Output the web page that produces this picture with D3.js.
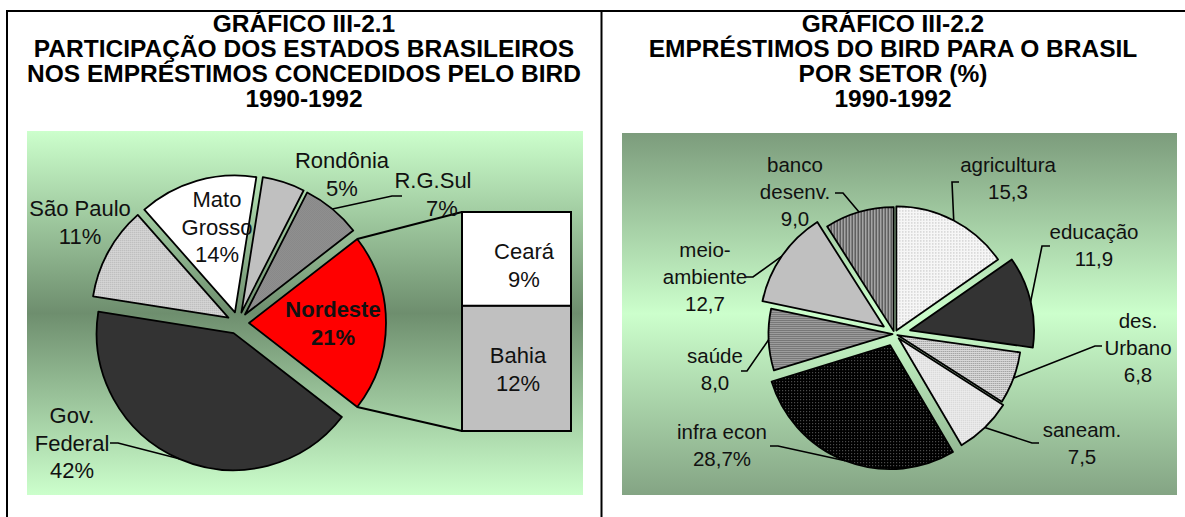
<!DOCTYPE html>
<html>
<head>
<meta charset="utf-8">
<script src="https://d3js.org/d3.v7.min.js"></script>
<style>
  body { margin: 0; background: #fff; }
  svg text { font-family: Arial, "Liberation Sans", sans-serif; fill: #111; }
</style>
</head>
<body>
<svg id="chart" width="1185" height="517"></svg>
<script>
// Gráfico III-2.1 - participação dos estados (%)
const stateNames = ["Nordeste", "Gov. Federal", "São Paulo", "Mato Grosso", "Rondônia", "R.G.Sul"];
const stateShares = [21, 42, 11, 14, 5, 7];
// fatia "Nordeste" aberta na barra
const nordesteNames = ["Ceará", "Bahia"];
const nordesteShares = [9, 12];

// Gráfico III-2.2 - empréstimos por setor (%)
const sectorNames = ["agricultura", "educação", "des. Urbano", "saneam.", "infra econ", "saúde", "meio-ambiente", "banco desenv."];
const sectorShares = [15.3, 11.9, 6.8, 7.5, 28.7, 8.0, 12.7, 9.0];

const titles1 = ["GRÁFICO III-2.1", "PARTICIPAÇÃO DOS ESTADOS BRASILEIROS", "NOS EMPRÉSTIMOS CONCEDIDOS PELO BIRD", "1990-1992"];
const titles2 = ["GRÁFICO III-2.2", "EMPRÉSTIMOS DO BIRD PARA O BRASIL", "POR SETOR (%)", "1990-1992"];

const svg = d3.select("#chart");
const deg = Math.PI / 180;

// ---------- defs: gradients + patterns ----------
const defs = svg.append("defs");

function vGrad(id, stops) {
  const g = defs.append("linearGradient").attr("id", id)
    .attr("x1", 0).attr("y1", 0).attr("x2", 0).attr("y2", 1);
  stops.forEach(s => g.append("stop").attr("offset", s[0]).attr("stop-color", s[1]));
}
vGrad("bgLeft", [[0, "#ccffcc"], [0.5, "#6e8e6e"], [1, "#ccffcc"]]);
vGrad("bgRight", [[0, "#7c9c7c"], [0.5, "#ccffcc"], [1, "#84a484"]]);

function dotPattern(id, size, bg, dots, fg) {
  const p = defs.append("pattern").attr("id", id)
    .attr("patternUnits", "userSpaceOnUse").attr("width", size).attr("height", size);
  p.append("rect").attr("width", size).attr("height", size).attr("fill", bg);
  dots.forEach(d => p.append("rect").attr("x", d[0]).attr("y", d[1])
    .attr("width", d[2] || 1).attr("height", d[3] || 1).attr("fill", fg));
}
dotPattern("pSP", 2, "#dcdcdc", [[0, 0]], "#9c9c9c");
dotPattern("pRG", 2, "#c8c8c8", [[0, 0], [1, 1]], "#505050");
dotPattern("pAgri", 3, "#f6f6f6", [[0, 0]], "#a8a8a8");
dotPattern("pUrb", 2, "#dadada", [[0, 0]], "#8a8a8a");
dotPattern("pSan", 2, "#f2f2f2", [[0, 0]], "#bcbcbc");
dotPattern("pInfra", 3, "#000000", [[0, 0]], "#6a6a6a");
dotPattern("pSaude", 2, "#a0a0a0", [[0, 0]], "#484848");
dotPattern("pBanco", 3, "#a4a4a4", [[0, 0, 1, 3]], "#3c3c3c");

// ---------- frame ----------
const frame = svg.append("g").attr("stroke", "#000").attr("stroke-width", 2);
frame.append("line").attr("x1", 6).attr("x2", 1185).attr("y1", 11).attr("y2", 11);
frame.append("line").attr("x1", 7).attr("x2", 7).attr("y1", 10).attr("y2", 517);
frame.append("line").attr("x1", 601.5).attr("x2", 601.5).attr("y1", 10).attr("y2", 517);

function drawTitle(lines, cx) {
  const base = [32, 57, 82, 107];
  svg.append("g").selectAll("text").data(lines).join("text")
    .attr("x", cx).attr("y", (d, i) => base[i])
    .attr("text-anchor", "middle")
    .attr("font-size", "24.5px").attr("font-weight", "bold")
    .style("fill", "#000")
    .text(d => d);
}
drawTitle(titles1, 304);
drawTitle(titles2, 893);

svg.append("rect").attr("x", 27).attr("y", 131).attr("width", 556).attr("height", 364).attr("fill", "url(#bgLeft)");
svg.append("rect").attr("x", 622).attr("y", 133).attr("width", 555).attr("height", 362).attr("fill", "url(#bgRight)");

// ---------- helpers ----------
function midAngle(d) { return (d.startAngle + d.endAngle) / 2; }
function pt(cx, cy, a, rr) { return [cx + rr * Math.sin(a), cy - rr * Math.cos(a)]; }
function sliceOrigin(cx, cy, d, e) { return pt(cx, cy, midAngle(d), e); }

function drawLabelLines(g, lines, x, y0, lh, size, bold) {
  lines.forEach((t, i) => {
    g.append("text").attr("x", x).attr("y", y0 + i * lh)
      .attr("text-anchor", "middle").attr("font-size", size)
      .attr("font-weight", bold ? "bold" : null)
      .text(t);
  });
}
function splitName(name) {
  return name.replace("-", "-\n").replace(/ /g, "\n").split("\n");
}
const leaderLine = d3.line();

// =============== Gráfico III-2.1: bar of pie ===============
const c1 = [238, 323], r1 = 137, explode1 = 11;
const fills1 = {
  "Nordeste": "#ff0000", "Gov. Federal": "#333333", "São Paulo": "url(#pSP)",
  "Mato Grosso": "#ffffff", "Rondônia": "#c0c0c0", "R.G.Sul": "url(#pRG)"
};
// "Nordeste" fica centrado às 3 horas (lado da barra)
const start1 = (90 - stateShares[0] * 3.6 / 2) * deg;
const pie1 = d3.pie().sort(null).value(d => d.v).startAngle(start1).endAngle(start1 + 2 * Math.PI);
const arcs1 = pie1(stateNames.map((n, i) => ({ name: n, v: stateShares[i] })));
const arc1 = d3.arc().innerRadius(0).outerRadius(r1);

const g1 = svg.append("g");
g1.selectAll("path").data(arcs1).join("path")
  .attr("transform", d => "translate(" + sliceOrigin(c1[0], c1[1], d, explode1) + ")")
  .attr("d", arc1)
  .attr("fill", d => fills1[d.data.name])
  .attr("stroke", "#000").attr("stroke-width", 1.8).attr("stroke-linejoin", "round");

// barra do Nordeste
const barX = 462, barW = 109;
const barY = d3.scaleLinear().domain([0, d3.sum(nordesteShares)]).range([212, 431]);
const stack = nordesteNames.map((n, i) => ({
  name: n, v: nordesteShares[i],
  y0: d3.sum(nordesteShares.slice(0, i)), y1: d3.sum(nordesteShares.slice(0, i + 1))
}));
const barFills = { "Ceará": "#ffffff", "Bahia": "#c0c0c0" };
g1.selectAll("rect.bar").data(stack).join("rect").attr("class", "bar")
  .attr("x", barX).attr("width", barW)
  .attr("y", d => barY(d.y0)).attr("height", d => barY(d.y1) - barY(d.y0))
  .attr("fill", d => barFills[d.name])
  .attr("stroke", "#000").attr("stroke-width", 2);

// linhas de ligação fatia -> barra
const nd = arcs1[0];
const ndO = sliceOrigin(c1[0], c1[1], nd, explode1);
const ndTop = pt(ndO[0], ndO[1], nd.startAngle, r1);
const ndBot = pt(ndO[0], ndO[1], nd.endAngle, r1);
g1.append("path").attr("d", leaderLine([ndTop, [barX, barY(0)]]))
  .attr("stroke", "#000").attr("stroke-width", 2).attr("fill", "none");
g1.append("path").attr("d", leaderLine([ndBot, [barX, barY(d3.sum(nordesteShares))]]))
  .attr("stroke", "#000").attr("stroke-width", 2).attr("fill", "none");

// rótulos
const labels1 = {
  "Nordeste": { x: 333, y: 317, bold: true, split: false },
  "Gov. Federal": { x: 72, y: 423, split: true, lead: { ax: 110, ay: 443, ex: 118 } },
  "São Paulo": { x: 80, y: 216, split: false },
  "Mato Grosso": { x: 217, y: 207, split: true },
  "Rondônia": { x: 342, y: 168, split: false },
  "R.G.Sul": { x: 433, y: 188, split: false, vx: 442, lead: { ax: 402, ay: 196, ex: 392 } }
};
const lh1 = 27.5;
arcs1.forEach(d => {
  const L = labels1[d.data.name];
  const lines = L.split ? splitName(d.data.name) : [d.data.name];
  drawLabelLines(g1, lines, L.x, L.y, lh1, "22px", L.bold);
  drawLabelLines(g1, [d.data.v + "%"], L.vx || L.x, L.y + lines.length * lh1, lh1, "22px", L.bold);
  if (L.lead) {
    const o = sliceOrigin(c1[0], c1[1], d, explode1);
    const p0 = pt(o[0], o[1], midAngle(d), r1);
    g1.append("path").attr("d", leaderLine([p0, [L.lead.ex, L.lead.ay], [L.lead.ax, L.lead.ay]]))
      .attr("stroke", "#000").attr("stroke-width", 1.6).attr("fill", "none");
  }
});
const barLabels = { "Ceará": { x: 524, y: 259 }, "Bahia": { x: 518, y: 363 } };
stack.forEach(d => {
  const L = barLabels[d.name];
  drawLabelLines(g1, [d.name, d.v + "%"], L.x, L.y, lh1, "22px", false);
});

// =============== Gráfico III-2.2: pizza por setor ===============
const c2 = [894.5, 334], r2 = 124;
const explode2 = {
  "agricultura": 4, "educação": 16, "des. Urbano": 3, "saneam.": 6,
  "infra econ": 12, "saúde": 2, "meio-ambiente": 13, "banco desenv.": 3
};
const fills2 = {
  "agricultura": "url(#pAgri)", "educação": "#333333", "des. Urbano": "url(#pUrb)",
  "saneam.": "url(#pSan)", "infra econ": "url(#pInfra)", "saúde": "url(#pSaude)",
  "meio-ambiente": "#c0c0c0", "banco desenv.": "url(#pBanco)"
};
const pie2 = d3.pie().sort(null).value(d => d.v);
const arcs2 = pie2(sectorNames.map((n, i) => ({ name: n, v: sectorShares[i] })));
const arc2 = d3.arc().innerRadius(0).outerRadius(r2);
const fmt = v => d3.format(".1f")(v).replace(".", ",");

const g2 = svg.append("g");
g2.selectAll("path").data(arcs2).join("path")
  .attr("transform", d => "translate(" + sliceOrigin(c2[0], c2[1], d, explode2[d.data.name]) + ")")
  .attr("d", arc2)
  .attr("fill", d => fills2[d.data.name])
  .attr("stroke", "#000").attr("stroke-width", 1.8).attr("stroke-linejoin", "round");

const labels2 = {
  "agricultura": { x: 1008, y: 172, split: false, lead: { ax: 959, ay: 182, ex: 952 } },
  "educação": { x: 1094, y: 239, split: false, lead: { ax: 1050, ay: 246, ex: 1042 } },
  "des. Urbano": { x: 1138, y: 328, split: true, lead: { ax: 1102, ay: 346, ex: 1095 } },
  "saneam.": { x: 1082, y: 437, split: false, lead: { ax: 1039, ay: 443, ex: 1032 } },
  "infra econ": { x: 722, y: 439, split: false, suffix: "%", lead: { ax: 770, ay: 446, ex: 778 } },
  "saúde": { x: 715, y: 363, split: false, lead: { ax: 741, ay: 371, ex: 747 } },
  "meio-ambiente": { x: 705, y: 257, split: true, lead: { ax: 746, ay: 277, ex: 753 } },
  "banco desenv.": { x: 795, y: 172, split: true, lead: { ax: 835, ay: 193, ex: 843 } }
};
const lh2 = 27;
arcs2.forEach(d => {
  const L = labels2[d.data.name];
  const lines = L.split ? splitName(d.data.name) : [d.data.name];
  lines.push(fmt(d.data.v) + (L.suffix || ""));
  drawLabelLines(g2, lines, L.x, L.y, lh2, "20.5px", false);
  const o = sliceOrigin(c2[0], c2[1], d, explode2[d.data.name]);
  const p0 = pt(o[0], o[1], midAngle(d), r2);
  g2.append("path").attr("d", leaderLine([p0, [L.lead.ex, L.lead.ay], [L.lead.ax, L.lead.ay]]))
    .attr("stroke", "#000").attr("stroke-width", 1.6).attr("fill", "none");
});
</script>
</body>
</html>
